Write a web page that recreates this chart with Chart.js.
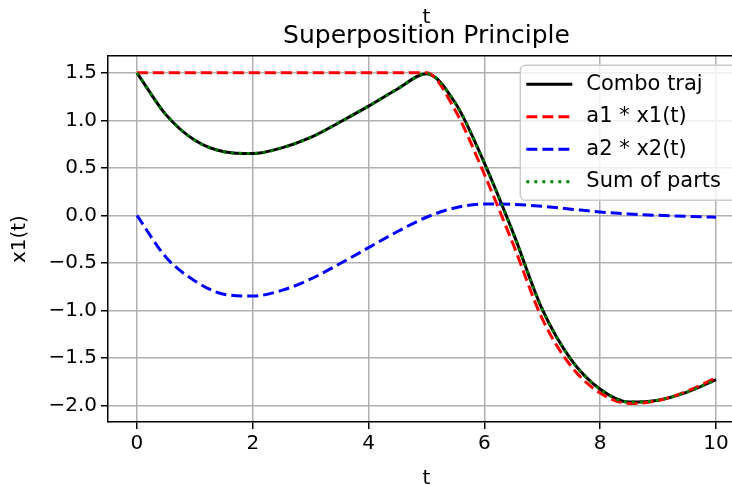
<!DOCTYPE html>
<html>
<head>
<meta charset="utf-8">
<script src="https://cdn.jsdelivr.net/npm/chart.js@4.4.0/dist/chart.umd.min.js"></script>
<style>
  html, body { margin: 0; padding: 0; background: #fff; overflow: hidden; }
  #wrap { width: 760px; height: 485px; }
</style>
</head>
<body>
<div id="wrap"><canvas id="plot" width="760" height="485"></canvas></div>
<script>
// Superposition Principle - combined trajectory vs its two scaled parts
const tValues = [0, 0.5, 1, 1.5, 2, 2.5, 3, 3.5, 4, 4.5, 5, 5.5, 6, 6.5, 7, 7.5, 8, 8.5, 9, 9.5, 10];
const a1x1 = [1.5, 1.5, 1.5, 1.5, 1.5, 1.5, 1.5, 1.5, 1.5, 1.5, 1.5, 1.1, 0.43, -0.31, -1.09, -1.59, -1.87, -1.98, -1.95, -1.85, -1.71];
const a2x2 = [0, -0.44, -0.69, -0.83, -0.85, -0.79, -0.67, -0.51, -0.34, -0.17, -0.02, 0.08, 0.12, 0.115, 0.095, 0.065, 0.035, 0.015, 0.0, -0.01, -0.02];
const comboTraj = [1.5, 1.06, 0.79, 0.67, 0.65, 0.71, 0.82, 0.98, 1.15, 1.33, 1.49, 1.18, 0.55, -0.19, -0.99, -1.52, -1.83, -1.965, -1.945, -1.86, -1.73];
const sumOfParts = [1.5, 1.06, 0.79, 0.67, 0.65, 0.71, 0.82, 0.98, 1.15, 1.33, 1.49, 1.18, 0.55, -0.19, -0.99, -1.52, -1.83, -1.965, -1.945, -1.86, -1.73];
const xTicks = [0, 2, 4, 6, 8, 10];
const yTicks = [1.5, 1.0, 0.5, 0.0, -0.5, -1.0, -1.5, -2.0];

const FONT = "'DejaVu Sans', sans-serif";
const pts = (ys) => tValues.map((t, i) => ({ x: t, y: ys[i] }));

// legend box in the upper right of the plot, like matplotlib's
const boxLegend = {
  id: "boxLegend",
  afterDraw(chart) {
    const { ctx, chartArea } = chart;
    const sets = chart.data.datasets;
    ctx.save();
    ctx.font = "21px " + FONT;
    const textW = Math.max(...sets.map((d) => ctx.measureText(d.label).width));
    const pad = 6, handleLen = 46, gap = 14, rowH = 32.5;
    const w = pad + handleLen + gap + textW + 17;
    const h = 135;
    const right = chartArea.right - 7;
    const left = right - w;
    const top = chartArea.top + 9;
    ctx.beginPath();
    ctx.roundRect(left, top, w, h, 5);
    ctx.fillStyle = "rgba(255,255,255,0.8)";
    ctx.fill();
    ctx.strokeStyle = "#cccccc";
    ctx.lineWidth = 1.5;
    ctx.stroke();
    sets.forEach((d, i) => {
      const cy = top + 19 + i * rowH;
      ctx.beginPath();
      ctx.setLineDash(d.borderDash || []);
      ctx.strokeStyle = d.borderColor;
      ctx.lineWidth = d.borderWidth;
      ctx.lineCap = "butt";
      ctx.moveTo(left + pad, cy);
      ctx.lineTo(left + pad + handleLen, cy);
      ctx.stroke();
      ctx.setLineDash([]);
      ctx.fillStyle = "#000";
      ctx.textBaseline = "middle";
      ctx.textAlign = "left";
      ctx.fillText(d.label, left + pad + handleLen + gap, cy);
    });
    ctx.restore();
  },
};

const line = (label, ys, color, dash, order) => ({
  label,
  data: pts(ys),
  borderColor: color,
  borderWidth: 3,
  borderDash: dash,
  borderCapStyle: "butt",
  pointRadius: 0,
  fill: false,
  cubicInterpolationMode: "monotone",
  order,
});

new Chart(document.getElementById("plot"), {
  type: "line",
  data: {
    datasets: [
      line("Combo traj", comboTraj, "#000000", [], 3),
      line("a1 * x1(t)", a1x1, "#ff0000", [11, 5], 2),
      line("a2 * x2(t)", a2x2, "#0000ff", [11, 5], 1),
      line("Sum of parts", sumOfParts, "#008000", [3, 5], 0),
    ],
  },
  options: {
    responsive: false,
    animation: false,
    layout: { padding: { left: 0, right: 15, top: 0, bottom: 0 } },
    plugins: {
      legend: { display: false },
      tooltip: { enabled: false },
      title: {
        display: true,
        fullSize: false,
        text: "t",
        color: "#000",
        font: { family: FONT, size: 20, weight: "normal" },
        padding: { top: 6, bottom: 0 },
      },
      subtitle: {
        display: true,
        fullSize: false,
        text: "Superposition Principle",
        color: "#000",
        font: { family: FONT, size: 25, weight: "normal" },
        padding: { top: -9, bottom: 0 },
      },
    },
    scales: {
      x: {
        type: "linear",
        position: "bottom",
        min: -0.5,
        max: 10.5,
        afterBuildTicks: (s) => { s.ticks = xTicks.map((v) => ({ value: v })); },
        afterFit: (s) => { s.height = 63; },
        ticks: { color: "#000", font: { family: FONT, size: 20 }, padding: 3, maxRotation: 0 },
        grid: { color: "#b0b0b0", lineWidth: 1.5, tickLength: 7, tickColor: "#000", tickWidth: 1.5 },
        border: { color: "#000", width: 1.5 },
        title: { display: true, text: "t", color: "#000", font: { family: FONT, size: 20 }, padding: { top: 0, bottom: -6 } },
      },
      x2: {
        type: "linear",
        position: "top",
        min: -0.5,
        max: 10.5,
        afterFit: (s) => { s.height = 5.2; },
        ticks: { display: false },
        grid: { drawOnChartArea: false, drawTicks: false },
        border: { color: "#000", width: 1.5 },
      },
      y: {
        type: "linear",
        min: -2.175,
        max: 1.675,
        afterBuildTicks: (s) => { s.ticks = yTicks.map((v) => ({ value: v })); },
        afterFit: (s) => { s.width = 108; },
        ticks: {
          color: "#000",
          font: { family: FONT, size: 20 },
          padding: 4,
          callback: (v) => v.toFixed(1).replace("-", "\u2212"),
        },
        grid: { color: "#b0b0b0", lineWidth: 1.5, tickLength: 7, tickColor: "#000", tickWidth: 1.5 },
        border: { color: "#000", width: 1.5 },
        title: { display: true, text: "x1(t)", color: "#000", font: { family: FONT, size: 20 }, padding: { top: 8, bottom: 0 } },
      },
    },
  },
  plugins: [boxLegend],
});
</script>
</body>
</html>
